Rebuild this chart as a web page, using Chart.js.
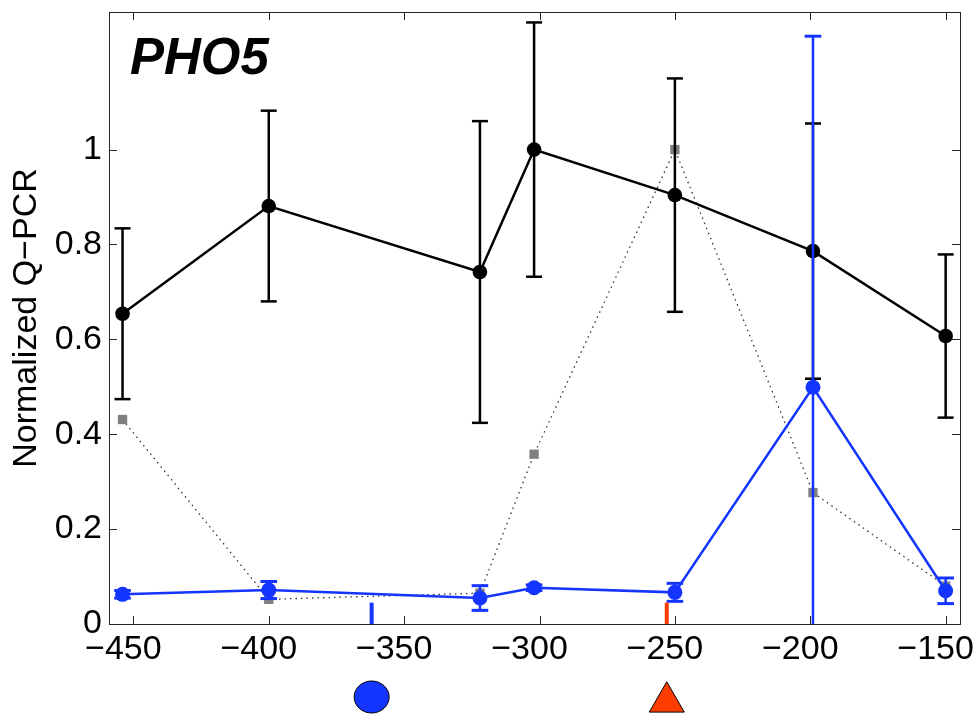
<!DOCTYPE html>
<html>
<head>
<meta charset="utf-8">
<title>PHO5 Q-PCR</title>
<script src="https://cdn.jsdelivr.net/npm/chart.js@4.4.0/dist/chart.umd.min.js"></script>
<style>
  html, body { margin: 0; padding: 0; background: #fff; }
  canvas { display: block; }
</style>
</head>
<body>
<canvas id="pho5Chart" width="977" height="715"></canvas>
<script>
// amplicon positions along the promoter (bp)
const positions = [-454, -400, -322, -302, -250, -199, -150];

// black series: mean and symmetric error
const blackMean = [0.654, 0.881, 0.742, 1.0, 0.904, 0.786, 0.607];
const blackErr = [0.180, 0.201, 0.318, 0.268, 0.246, 0.269, 0.172];

// blue series: mean and symmetric error
const blueMean = [0.0625, 0.0716, 0.0548, 0.0765, 0.0667, 0.499, 0.070];
const blueErr = [0.008, 0.018, 0.026, 0.006, 0.019, 0.740, 0.027];

// grey dotted reference profile
const greyValues = [0.431, 0.052, 0.065, 0.358, 1.0, 0.277, 0.080];

// sites marked under the axis
const circleSites = [-362];
const triangleSites = [-253];

const xTicks = [-450, -400, -350, -300, -250, -200, -150];
const yTicks = [0, 0.2, 0.4, 0.6, 0.8, 1];

const FONT = '"Liberation Sans", Arial, Helvetica, sans-serif';
const BLUE = '#1434ff';
const RED = '#ff3d00';
const siteTick = 0.045;   // height of the little site bars

const points = ys => positions.map((x, i) => ({x: x, y: ys[i]}));

function errorStems(mean, err) {
  const out = [];
  positions.forEach((x, i) => {
    out.push({x: x, y: mean[i] - err[i]}, {x: x, y: mean[i] + err[i]}, {x: x, y: null});
  });
  return out;
}

function errorCaps(mean, err) {
  return positions.flatMap((x, i) => [{x: x, y: mean[i] - err[i]}, {x: x, y: mean[i] + err[i]}]);
}

function siteBars(sites) {
  return sites.flatMap(x => [{x: x, y: 0}, {x: x, y: siteTick}, {x: x, y: null}]);
}

const minus = v => (v < 0 ? '\u2212' + Math.abs(v) : String(v));

// box around the plot with inward ticks on all four sides
const axesBox = {
  id: 'axesBox',
  beforeDatasetsDraw(chart) {
    const {ctx, chartArea: a, scales} = chart;
    const len = 8;
    ctx.save();
    ctx.strokeStyle = '#262626';
    ctx.lineWidth = 1;
    ctx.strokeRect(a.left + 0.5, a.top + 0.5, a.right - a.left, a.bottom - a.top);
    ctx.beginPath();
    xTicks.forEach(v => {
      const px = Math.round(scales.x.getPixelForValue(v)) + 0.5;
      ctx.moveTo(px, a.bottom);
      ctx.lineTo(px, a.bottom - len);
      ctx.moveTo(px, a.top);
      ctx.lineTo(px, a.top + len);
    });
    yTicks.forEach(v => {
      const py = Math.round(scales.y.getPixelForValue(v)) + 0.5;
      ctx.moveTo(a.left, py);
      ctx.lineTo(a.left + len, py);
      ctx.moveTo(a.right, py);
      ctx.lineTo(a.right - len, py);
    });
    ctx.stroke();
    ctx.restore();
  }
};

// circle / triangle symbols in the row under the tick labels
const siteSymbols = {
  id: 'siteSymbols',
  afterDatasetsDraw(chart) {
    const {ctx, chartArea: a, scales} = chart;
    ctx.save();
    ctx.lineWidth = 1;
    ctx.strokeStyle = '#000';
    ctx.fillStyle = BLUE;
    circleSites.forEach(s => {
      Chart.helpers.drawPointLegend(ctx, {pointStyle: 'circle', radius: 16, rotation: 0, borderWidth: 1},
        scales.x.getPixelForValue(s), a.bottom + 73, 35);
    });
    ctx.fillStyle = RED;
    triangleSites.forEach(s => {
      Chart.helpers.drawPoint(ctx, {pointStyle: 'triangle', radius: 20.2, rotation: 0, borderWidth: 1},
        scales.x.getPixelForValue(s), a.bottom + 78);
    });
    ctx.restore();
  }
};

const geneLabel = {
  id: 'geneLabel',
  afterDraw(chart) {
    const {ctx, chartArea: a} = chart;
    ctx.save();
    ctx.font = 'italic bold 51px ' + FONT;
    ctx.fillStyle = '#000';
    ctx.textBaseline = 'alphabetic';
    ctx.fillText('PHO5', a.left + 21, a.top + 62);
    ctx.restore();
  }
};

new Chart(document.getElementById('pho5Chart'), {
  type: 'scatter',
  data: {
    datasets: [
      {
        label: 'blue',
        data: points(blueMean),
        showLine: true,
        borderColor: BLUE,
        borderWidth: 2.5,
        pointRadius: 7.5,
        pointBackgroundColor: BLUE,
        pointBorderWidth: 0,
        order: 0
      },
      {
        label: 'blue error',
        data: errorStems(blueMean, blueErr),
        showLine: true,
        spanGaps: false,
        borderColor: BLUE,
        borderWidth: 2.5,
        pointRadius: 0,
        order: 1
      },
      {
        label: 'blue caps',
        data: errorCaps(blueMean, blueErr),
        pointStyle: 'line',
        pointRadius: 8.3,
        pointBorderColor: BLUE,
        pointBorderWidth: 3,
        order: 1
      },
      {
        label: 'black',
        data: points(blackMean),
        showLine: true,
        borderColor: '#000',
        borderWidth: 2.5,
        pointRadius: 7.3,
        pointBackgroundColor: '#000',
        pointBorderWidth: 0,
        order: 2
      },
      {
        label: 'black error',
        data: errorStems(blackMean, blackErr),
        showLine: true,
        spanGaps: false,
        borderColor: '#000',
        borderWidth: 2.5,
        pointRadius: 0,
        order: 3
      },
      {
        label: 'black caps',
        data: errorCaps(blackMean, blackErr),
        pointStyle: 'line',
        pointRadius: 8,
        pointBorderColor: '#000',
        pointBorderWidth: 2.5,
        order: 3
      },
      {
        label: 'grey',
        data: points(greyValues),
        showLine: true,
        borderColor: '#333',
        borderWidth: 1.3,
        borderDash: [1.5, 4],
        pointStyle: 'rect',
        pointRadius: 6.6,
        pointBackgroundColor: '#808080',
        pointBorderWidth: 0,
        order: 4
      },
      {
        label: 'circle site bar',
        data: siteBars(circleSites),
        showLine: true,
        spanGaps: false,
        borderColor: BLUE,
        borderWidth: 4,
        pointRadius: 0,
        order: 0
      },
      {
        label: 'triangle site bar',
        data: siteBars(triangleSites),
        showLine: true,
        spanGaps: false,
        borderColor: RED,
        borderWidth: 4,
        pointRadius: 0,
        order: 0
      }
    ]
  },
  options: {
    responsive: false,
    animation: false,
    events: [],
    layout: { padding: { top: 12, right: 17, left: 0, bottom: 0 } },
    plugins: {
      legend: { display: false },
      tooltip: { enabled: false }
    },
    scales: {
      x: {
        type: 'linear',
        min: -459,
        max: -144.7,
        afterBuildTicks: s => { s.ticks = xTicks.map(v => ({value: v})); },
        afterFit: s => { s.height = 91; s.paddingLeft = 0; s.paddingRight = 0; },
        grid: { display: false, drawTicks: false },
        border: { display: false },
        ticks: {
          font: { family: FONT, size: 34 },
          color: '#000',
          padding: 5,
          labelOffset: -10,
          maxRotation: 0,
          autoSkip: false,
          callback: v => minus(v)
        }
      },
      y: {
        type: 'linear',
        min: 0,
        max: 1.29,
        afterBuildTicks: s => { s.ticks = yTicks.map(v => ({value: v})); },
        afterFit: s => { s.width = 109; s.paddingTop = 0; s.paddingBottom = 0; },
        grid: { display: false, drawTicks: false },
        border: { display: false },
        ticks: {
          font: { family: FONT, size: 34 },
          color: '#000',
          padding: 7,
          autoSkip: false,
          callback: v => String(v)
        },
        title: {
          display: true,
          text: 'Normalized Q\u2212PCR',
          font: { family: FONT, size: 34 },
          color: '#000',
          padding: { top: 6, bottom: 0 }
        }
      }
    }
  },
  plugins: [axesBox, siteSymbols, geneLabel]
});
</script>
</body>
</html>
